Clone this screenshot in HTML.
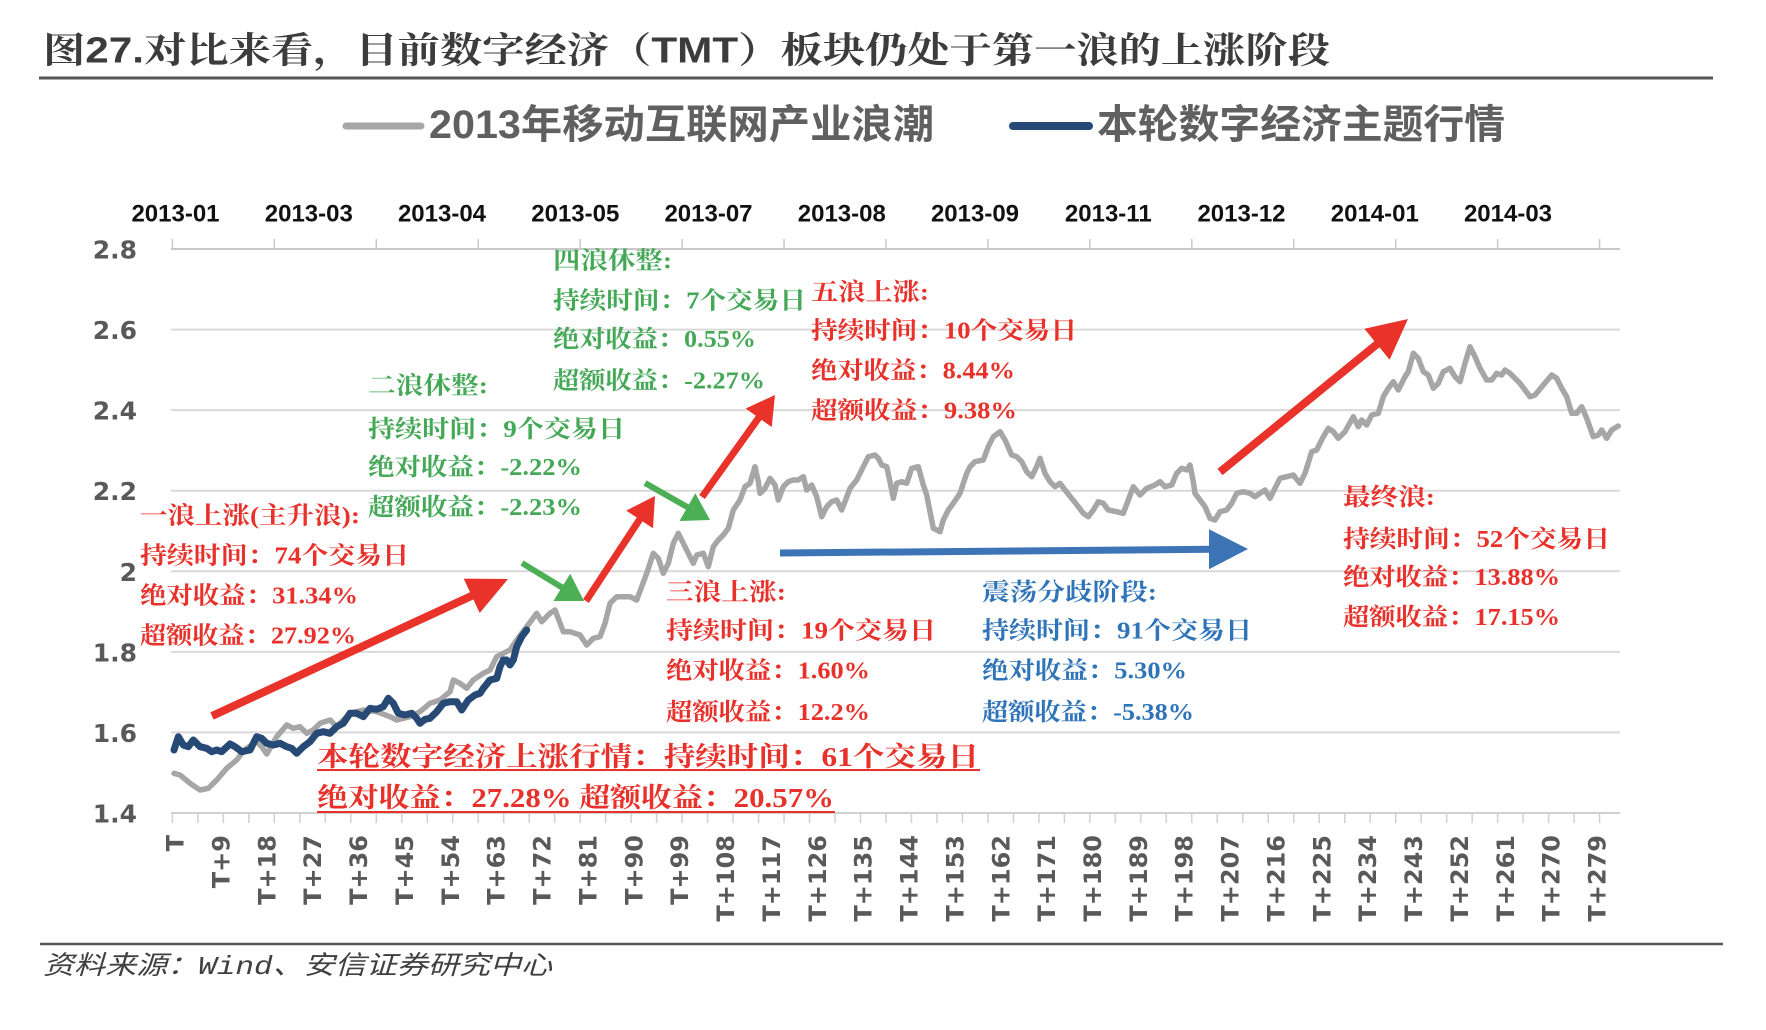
<!DOCTYPE html>
<html>
<head>
<meta charset="utf-8">
<style>
html,body{margin:0;padding:0;background:#fff;}
svg{display:block;}
.ann{font-family:"Liberation Serif","Noto Serif CJK SC",serif;font-weight:bold;font-size:24px;dominant-baseline:central;}
.r{fill:#e8312a;}
.g{fill:#45a857;}
.b{fill:#2f74b8;}
.ylab{font-family:"DejaVu Sans",sans-serif;font-weight:bold;font-size:25px;fill:#595959;text-anchor:end;dominant-baseline:central;}
.xlab{font-family:"DejaVu Sans",sans-serif;font-weight:bold;font-size:24px;fill:#595959;text-anchor:end;}
.tlab{font-family:"Liberation Sans",sans-serif;font-weight:bold;font-size:24px;fill:#111;text-anchor:middle;dominant-baseline:central;}
</style>
</head>
<body>
<svg width="1766" height="1030" viewBox="0 0 1766 1030" xmlns="http://www.w3.org/2000/svg">
<rect width="1766" height="1030" fill="#fff"/>

<!-- Title -->
<text x="43" y="50" textLength="1287" lengthAdjust="spacingAndGlyphs" style="font-family:'Liberation Sans','Noto Serif CJK SC',serif;font-weight:bold;font-size:36px;fill:#3c3c3c;dominant-baseline:central;">图27.对比来看，目前数字经济（TMT）板块仍处于第一浪的上涨阶段</text>
<line x1="39" y1="78" x2="1713" y2="78" stroke="#555" stroke-width="3"/>

<!-- Legend -->
<line x1="346" y1="126" x2="421" y2="126" stroke="#a6a6a6" stroke-width="7" stroke-linecap="round"/>
<text x="429" y="125" textLength="505" lengthAdjust="spacingAndGlyphs" style="font-family:'Liberation Sans','Noto Sans CJK SC',sans-serif;font-weight:bold;font-size:40px;fill:#606060;dominant-baseline:central;">2013年移动互联网产业浪潮</text>
<line x1="1013" y1="126" x2="1089" y2="126" stroke="#264a75" stroke-width="8" stroke-linecap="round"/>
<text x="1097" y="125" textLength="408" lengthAdjust="spacingAndGlyphs" style="font-family:'Liberation Sans','Noto Sans CJK SC',sans-serif;font-weight:bold;font-size:40px;fill:#606060;dominant-baseline:central;">本轮数字经济主题行情</text>

<!-- Top date labels -->
<text class="tlab" x="175.5" y="214">2013-01</text>
<text class="tlab" x="308.8" y="214">2013-03</text>
<text class="tlab" x="442" y="214">2013-04</text>
<text class="tlab" x="575.3" y="214">2013-05</text>
<text class="tlab" x="708.5" y="214">2013-07</text>
<text class="tlab" x="841.8" y="214">2013-08</text>
<text class="tlab" x="975" y="214">2013-09</text>
<text class="tlab" x="1108.3" y="214">2013-11</text>
<text class="tlab" x="1241.5" y="214">2013-12</text>
<text class="tlab" x="1374.8" y="214">2014-01</text>
<text class="tlab" x="1508" y="214">2014-03</text>

<!-- Gridlines -->
<g stroke="#d9d9d9" stroke-width="2">
<line x1="171" y1="329.6" x2="1620" y2="329.6"/>
<line x1="171" y1="410.1" x2="1620" y2="410.1"/>
<line x1="171" y1="490.7" x2="1620" y2="490.7"/>
<line x1="171" y1="571.3" x2="1620" y2="571.3"/>
<line x1="171" y1="651.9" x2="1620" y2="651.9"/>
<line x1="171" y1="732.4" x2="1620" y2="732.4"/>
</g>
<!-- top axis -->
<line x1="171" y1="249" x2="1620" y2="249" stroke="#c8c8c8" stroke-width="2"/>
<line x1="171.65" y1="244" x2="1602" y2="244" stroke="#c8c8c8" stroke-width="10" stroke-dasharray="1.5 100.44"/>
<!-- bottom axis -->
<line x1="171" y1="813" x2="1620" y2="813" stroke="#d0d0d0" stroke-width="2"/>
<line x1="171.65" y1="818" x2="1603" y2="818" stroke="#d0d0d0" stroke-width="10" stroke-dasharray="1.5 23.985"/>

<!-- Y labels -->
<text class="ylab" x="137" y="250">2.8</text>
<text class="ylab" x="137" y="330.6">2.6</text>
<text class="ylab" x="137" y="411.1">2.4</text>
<text class="ylab" x="137" y="491.7">2.2</text>
<text class="ylab" x="137" y="572.3">2</text>
<text class="ylab" x="137" y="652.9">1.8</text>
<text class="ylab" x="137" y="733.4">1.6</text>
<text class="ylab" x="137" y="814">1.4</text>

<!-- X labels -->
<g class="xlab">
<text transform="translate(175,835) rotate(-90)" dy="0.36em">T</text>
<text transform="translate(220.9,835) rotate(-90)" dy="0.36em">T+9</text>
<text transform="translate(266.7,835) rotate(-90)" dy="0.36em">T+18</text>
<text transform="translate(312.6,835) rotate(-90)" dy="0.36em">T+27</text>
<text transform="translate(358.5,835) rotate(-90)" dy="0.36em">T+36</text>
<text transform="translate(404.4,835) rotate(-90)" dy="0.36em">T+45</text>
<text transform="translate(450.2,835) rotate(-90)" dy="0.36em">T+54</text>
<text transform="translate(496.1,835) rotate(-90)" dy="0.36em">T+63</text>
<text transform="translate(542,835) rotate(-90)" dy="0.36em">T+72</text>
<text transform="translate(587.8,835) rotate(-90)" dy="0.36em">T+81</text>
<text transform="translate(633.7,835) rotate(-90)" dy="0.36em">T+90</text>
<text transform="translate(679.6,835) rotate(-90)" dy="0.36em">T+99</text>
<text transform="translate(725.4,835) rotate(-90)" dy="0.36em">T+108</text>
<text transform="translate(771.3,835) rotate(-90)" dy="0.36em">T+117</text>
<text transform="translate(817.2,835) rotate(-90)" dy="0.36em">T+126</text>
<text transform="translate(863.1,835) rotate(-90)" dy="0.36em">T+135</text>
<text transform="translate(908.9,835) rotate(-90)" dy="0.36em">T+144</text>
<text transform="translate(954.8,835) rotate(-90)" dy="0.36em">T+153</text>
<text transform="translate(1000.7,835) rotate(-90)" dy="0.36em">T+162</text>
<text transform="translate(1046.5,835) rotate(-90)" dy="0.36em">T+171</text>
<text transform="translate(1092.4,835) rotate(-90)" dy="0.36em">T+180</text>
<text transform="translate(1138.3,835) rotate(-90)" dy="0.36em">T+189</text>
<text transform="translate(1184.1,835) rotate(-90)" dy="0.36em">T+198</text>
<text transform="translate(1230,835) rotate(-90)" dy="0.36em">T+207</text>
<text transform="translate(1275.9,835) rotate(-90)" dy="0.36em">T+216</text>
<text transform="translate(1321.8,835) rotate(-90)" dy="0.36em">T+225</text>
<text transform="translate(1367.6,835) rotate(-90)" dy="0.36em">T+234</text>
<text transform="translate(1413.5,835) rotate(-90)" dy="0.36em">T+243</text>
<text transform="translate(1459.4,835) rotate(-90)" dy="0.36em">T+252</text>
<text transform="translate(1505.2,835) rotate(-90)" dy="0.36em">T+261</text>
<text transform="translate(1551.1,835) rotate(-90)" dy="0.36em">T+270</text>
<text transform="translate(1597,835) rotate(-90)" dy="0.36em">T+279</text>
</g>

<!-- Gray series -->
<polyline fill="none" stroke="#a6a6a6" stroke-width="5.5" stroke-linejoin="round" stroke-linecap="round" points="174,773.3 180,775 190,783.3 200,790 208.3,788.3 216.7,780 226.7,768.3 236.7,760 241.7,753.3 246.7,748.3 256.7,741.7 261.7,746.7 266.7,754 276.7,736.7 286.7,725 293.3,728.3 300,726.7 306.7,733.3 313.3,730 320,723.3 330,720 336.7,726.7 350,713.3 363.3,710 376.7,711.7 390,716.7 396.7,720 410,716.7 420,711.7 430,703.3 440,700 450,691.7 453.3,680 460,683.3 466.7,688.3 473.3,680 483.3,673.3 490,670 496.7,656.7 503.3,653.3 510,650 516.7,640 526.7,626.7 536.7,613.3 541.7,621.7 550,613.3 555,610 563.3,631.7 570,631.7 580,635 586.7,645 593.3,638.3 600,636.7 605,623.3 610,603.3 616.7,596.7 623.3,596.7 630,596.7 636.7,600 641.7,586.7 646.7,573.3 653.3,553.3 658.3,558.3 663.3,573.3 668.3,563.3 673.3,543.3 678.3,533.3 683.3,543.3 688.3,553.3 693.3,563.3 696.7,555 703.3,553.3 708.3,566.7 713.3,546.7 718.3,540 723.3,535 728.3,528.3 733.3,510 740,500 745,486.7 750,483.3 755,466.7 758.3,481.7 760,493.3 765,488.3 770,478.3 775,485 778.3,500 783.3,486.7 788.3,481.7 793.3,480 798.3,480 803.3,476.7 806.7,490 811.7,485 816.7,496.7 821.7,516.7 826.7,506.7 831.7,501.7 836.7,500 841.7,510 845,501.7 850,488.3 856.7,480 863.3,466.7 868.3,456.7 875,455 878.3,458.3 881.7,465 886.7,466.7 890,481.7 893.3,498.3 896.7,483.3 901.7,481.7 906.7,483.3 911.7,468.3 918.3,466.7 923.3,485 926.7,495 933.3,528.3 940,531.7 943.3,520 948.3,510 953.3,503.3 960,493.3 966.7,473.3 970,466.7 975,461.7 983.3,460 988.3,446.7 993.3,436.7 1000,431.7 1005,440 1011.7,455 1016.7,456.7 1021.7,461.7 1026.7,471.7 1031.7,476.7 1036.7,466.7 1040,458.3 1045,473.3 1050,481.7 1055,486.7 1060,483.3 1065,490 1071.7,498.3 1078.3,506.7 1083.3,513.3 1088.3,516.7 1093.3,510 1098.3,501.7 1103.3,503.3 1108.3,510 1116.7,511.7 1123.3,513.3 1128.3,500 1133.3,486.7 1140,495 1146.7,488.3 1155,485 1160,481.7 1165,486.7 1171.7,485 1176.7,473.3 1181.7,468.3 1186.7,470 1190,465 1193.3,481.7 1195,493.3 1200,500 1205,506.7 1210,518.3 1215,520 1220,511.7 1226.7,510 1231.7,503.3 1236.7,493.3 1243.3,491.7 1250,493.3 1255,496.7 1260,493.3 1265,490 1270,498.3 1275,488.3 1280,478.3 1286.7,476.7 1293.3,475 1300,483.3 1305,473.3 1311.7,451.7 1316.7,450 1323.3,436.7 1328.3,428.3 1333.3,431.7 1338.3,438.3 1345,431.7 1353.3,416.7 1358.3,426.7 1361.7,420 1366.7,425 1371.7,415 1378.3,413.3 1383.3,396.7 1388.3,388.3 1393.3,381.7 1398.3,390 1405,376.7 1408.3,371.7 1413.3,353.3 1418.3,358.3 1423.3,371.7 1428.3,375 1433.3,388.3 1438.3,383.3 1443.3,371.7 1450,368.3 1455,376.7 1460,381.7 1465,363.3 1470,346.7 1475,356.7 1480,368.3 1486.7,380 1491.7,380 1496.7,373.3 1501.7,375 1505,370 1510,373.3 1520,383.3 1530,396.7 1535,395 1543.3,385 1551.7,375 1556.7,378.3 1561.7,388.3 1566.7,396.7 1571.7,413.3 1576.7,413.3 1581.7,406.7 1586.7,418.3 1593.3,436.7 1598.3,435 1601.7,430 1606.7,438.3 1611.7,430 1618.3,426"/>

<!-- Blue series -->
<polyline fill="none" stroke="#264a75" stroke-width="7" stroke-linejoin="round" stroke-linecap="round" points="174,750 178.3,736.7 183.3,745 188.3,746.7 193.3,740 200,746.7 206.7,748.3 211.7,751.7 216.7,750 221.7,751.7 230,744 235,746.7 241.7,751.7 250,750 256.7,736.7 261.7,738.3 266.7,743.3 273.3,745 280,743.3 286.7,746.7 291.7,748.3 296.7,753.3 303.3,746.7 310,741.7 316.7,733.3 323.3,731.7 330,733.3 336.7,726.7 343.3,723.3 350,713.3 356.7,713.3 363.3,716.7 370,708.3 376.7,709.3 383.3,706.7 388.3,698.3 393.3,703.3 398.3,713.3 405,715 411.7,713.3 416.7,718.3 420,723.3 425,719.3 430,718.3 436.7,711.7 443.3,703.3 450,701.7 456.7,701.7 461.7,710 468.3,700 475,695 480,693.3 483.3,688.3 490,680 496.7,678.3 500,666.7 503.3,660 506.7,660 510,665 513.3,660 516.7,646.7 521.7,636.7 526.7,630"/>

<!-- Arrows -->
<g>
<line x1="212" y1="716" x2="473" y2="595.2" stroke="#e8322a" stroke-width="8"/>
<polygon points="508,579 479.7,613 463.7,578.6" fill="#e8322a"/>

<line x1="522" y1="563" x2="563" y2="588.1" stroke="#4caf55" stroke-width="6"/>
<polygon points="584,601 553.4,601 570.2,573.8" fill="#4caf55"/>

<line x1="586" y1="601" x2="640.3" y2="518.4" stroke="#e8322a" stroke-width="7"/>
<polygon points="655,496 653,528.2 626.2,510.6" fill="#e8322a"/>

<line x1="645" y1="483" x2="688.5" y2="507.7" stroke="#4caf55" stroke-width="6"/>
<polygon points="710,520 679.5,521 695.3,493.2" fill="#4caf55"/>

<line x1="702" y1="497" x2="759.4" y2="416.8" stroke="#e8322a" stroke-width="7"/>
<polygon points="775,395 771.7,427.1 745.7,408.5" fill="#e8322a"/>

<line x1="780" y1="553" x2="1211" y2="549.3" stroke="#3d74b6" stroke-width="7"/>
<polygon points="1248,549 1209,569.3 1209,529.3" fill="#3d74b6"/>

<line x1="1220" y1="472" x2="1378" y2="343.4" stroke="#e8322a" stroke-width="8"/>
<polygon points="1408,319 1389.6,359.7 1364.4,328.7" fill="#e8322a"/>
</g>

<!-- Annotations -->
<g class="ann">
<!-- 四浪休整 -->
<text class="g" x="553" y="261.7" textLength="119" lengthAdjust="spacingAndGlyphs">四浪休整:</text>
<text class="g" x="553" y="301.7" textLength="253" lengthAdjust="spacingAndGlyphs">持续时间：7个交易日</text>
<text class="g" x="553" y="340" textLength="203" lengthAdjust="spacingAndGlyphs">绝对收益：0.55%</text>
<text class="g" x="553" y="381.7" textLength="212" lengthAdjust="spacingAndGlyphs">超额收益：-2.27%</text>
<!-- 五浪上涨 -->
<text class="r" x="811" y="293" textLength="118" lengthAdjust="spacingAndGlyphs">五浪上涨:</text>
<text class="r" x="811" y="331.7" textLength="266" lengthAdjust="spacingAndGlyphs">持续时间：10个交易日</text>
<text class="r" x="811" y="371.7" textLength="204" lengthAdjust="spacingAndGlyphs">绝对收益：8.44%</text>
<text class="r" x="811" y="411.7" textLength="206" lengthAdjust="spacingAndGlyphs">超额收益：9.38%</text>
<!-- 二浪休整 -->
<text class="g" x="368" y="386.7" textLength="120" lengthAdjust="spacingAndGlyphs">二浪休整:</text>
<text class="g" x="368" y="430" textLength="257" lengthAdjust="spacingAndGlyphs">持续时间：9个交易日</text>
<text class="g" x="368" y="468" textLength="214" lengthAdjust="spacingAndGlyphs">绝对收益：-2.22%</text>
<text class="g" x="368" y="508" textLength="214" lengthAdjust="spacingAndGlyphs">超额收益：-2.23%</text>
<!-- 一浪上涨 -->
<text class="r" x="140" y="516.7" textLength="220" lengthAdjust="spacingAndGlyphs">一浪上涨(主升浪):</text>
<text class="r" x="140" y="556.7" textLength="269" lengthAdjust="spacingAndGlyphs">持续时间：74个交易日</text>
<text class="r" x="140" y="596.7" textLength="218" lengthAdjust="spacingAndGlyphs">绝对收益：31.34%</text>
<text class="r" x="140" y="636.7" textLength="216" lengthAdjust="spacingAndGlyphs">超额收益：27.92%</text>
<!-- 三浪上涨 -->
<text class="r" x="666" y="593" textLength="120" lengthAdjust="spacingAndGlyphs">三浪上涨:</text>
<text class="r" x="666" y="631.7" textLength="270" lengthAdjust="spacingAndGlyphs">持续时间：19个交易日</text>
<text class="r" x="666" y="671.7" textLength="204" lengthAdjust="spacingAndGlyphs">绝对收益：1.60%</text>
<text class="r" x="666" y="713" textLength="204" lengthAdjust="spacingAndGlyphs">超额收益：12.2%</text>
<!-- 震荡分歧阶段 -->
<text class="b" x="982" y="593" textLength="175" lengthAdjust="spacingAndGlyphs">震荡分歧阶段:</text>
<text class="b" x="982" y="631.7" textLength="270" lengthAdjust="spacingAndGlyphs">持续时间：91个交易日</text>
<text class="b" x="982" y="671.7" textLength="205" lengthAdjust="spacingAndGlyphs">绝对收益：5.30%</text>
<text class="b" x="982" y="713" textLength="212" lengthAdjust="spacingAndGlyphs">超额收益：-5.38%</text>
<!-- 最终浪 -->
<text class="r" x="1343" y="498" textLength="92" lengthAdjust="spacingAndGlyphs">最终浪:</text>
<text class="r" x="1343" y="540" textLength="267" lengthAdjust="spacingAndGlyphs">持续时间：52个交易日</text>
<text class="r" x="1343" y="578" textLength="217" lengthAdjust="spacingAndGlyphs">绝对收益：13.88%</text>
<text class="r" x="1343" y="618" textLength="217" lengthAdjust="spacingAndGlyphs">超额收益：17.15%</text>
<!-- underlined summary -->
<text class="r" x="317" y="757" textLength="662" lengthAdjust="spacingAndGlyphs" style="font-size:27px;">本轮数字经济上涨行情：持续时间：61个交易日</text>
<text class="r" x="317" y="798" textLength="517" lengthAdjust="spacingAndGlyphs" style="font-size:27px;">绝对收益：27.28% 超额收益：20.57%</text>
</g>
<line x1="317" y1="770" x2="980" y2="770" stroke="#e8312a" stroke-width="2"/>
<line x1="317" y1="812" x2="835" y2="812" stroke="#e8312a" stroke-width="2"/>

<!-- Source -->
<line x1="40" y1="944" x2="1723" y2="944" stroke="#555" stroke-width="2.5"/>
<text x="43" y="967" textLength="509" lengthAdjust="spacingAndGlyphs" style="font-family:'Liberation Mono','Noto Sans CJK SC',sans-serif;font-style:italic;font-size:26px;fill:#404040;dominant-baseline:central;">资料来源：Wind、安信证券研究中心</text>
</svg>
</body>
</html>
